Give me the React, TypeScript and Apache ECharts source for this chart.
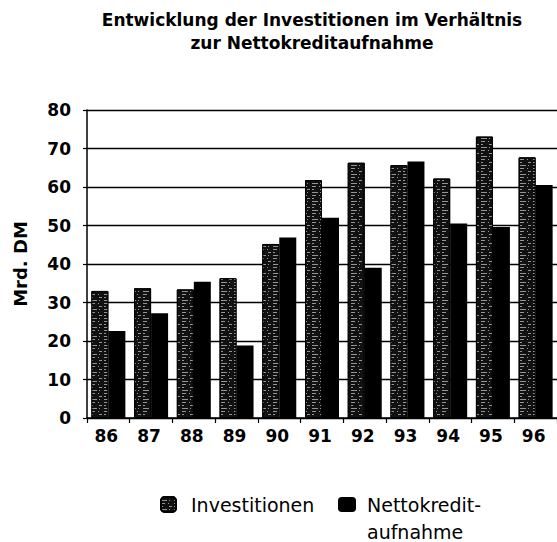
import React, { useEffect, useRef } from "react";
import * as echarts from "echarts";

const categories = ["86", "87", "88", "89", "90", "91", "92", "93", "94", "95", "96"];
const investitionen = [33.0, 33.7, 33.4, 36.3, 45.2, 61.8, 66.3, 65.7, 62.2, 73.1, 67.7];
const nettokreditaufnahme = [22.6, 27.2, 35.4, 18.8, 46.9, 52.0, 39.0, 66.6, 50.5, 49.6, 60.5];
const yMin = 0;
const yMax = 80;
const yStep = 10;

const FONT = "DejaVu Sans";

export default function App() {
  const ref = useRef<HTMLDivElement>(null);
  useEffect(() => {
    if (!ref.current) return;
    const chart = echarts.init(ref.current, null, { renderer: "svg" });
    const decal = {
      symbol: "rect",
      symbolSize: 1,
      color: "rgba(255,255,255,0.55)",
      dashArrayX: [
        [4, 3, 1, 5],
        [2, 6, 3, 2],
        [6, 2, 1, 4],
      ],
      dashArrayY: [1, 2],
      rotation: 0,
    };
    chart.setOption({
      animation: false,
      backgroundColor: "#ffffff",
      title: {
        text: "Entwicklung der Investitionen im Verhältnis\nzur Nettokreditaufnahme",
        left: 312,
        textAlign: "center",
        top: 8,
        padding: 0,
        textStyle: {
          fontFamily: FONT,
          fontWeight: "bold",
          fontSize: 17,
          lineHeight: 23,
          color: "#000",
        },
      },
      legend: [
        {
          data: ["Investitionen"],
          left: 160,
          top: 491,
          padding: 0,
          itemWidth: 15,
          itemHeight: 15,
          selectedMode: false,
          textStyle: {
            fontFamily: FONT,
            fontSize: 19,
            lineHeight: 27,
            color: "#000",
            padding: [0, 0, 0, 10],
          },
        },
        {
          data: ["Nettokreditaufnahme"],
          left: 338,
          top: 464,
          padding: 0,
          itemWidth: 18,
          itemHeight: 15,
          selectedMode: false,
          formatter: () => " \nNettokredit-\naufnahme",
          textStyle: {
            fontFamily: FONT,
            fontSize: 19,
            lineHeight: 27,
            color: "#000",
            padding: [0, 0, 0, 6],
          },
        },
      ],
      grid: { left: 87, top: 110, width: 473, height: 308, containLabel: false },
      xAxis: {
        type: "category",
        data: categories,
        axisLine: { show: true, lineStyle: { color: "#000", width: 1.5 } },
        axisTick: { show: true, length: 5, lineStyle: { color: "#000", width: 1.2 } },
        axisLabel: {
          fontFamily: FONT,
          fontWeight: "bold",
          fontSize: 17,
          color: "#000",
          margin: 9,
          padding: [0, 4, 0, 0],
        },
      },
      yAxis: {
        type: "value",
        min: yMin,
        max: yMax,
        interval: yStep,
        name: "Mrd. DM",
        nameLocation: "middle",
        nameRotate: 90,
        nameGap: 58,
        nameTextStyle: {
          fontFamily: FONT,
          fontWeight: "bold",
          fontSize: 18,
          color: "#000",
        },
        axisLine: { show: true, lineStyle: { color: "#000", width: 1.5 } },
        axisTick: { show: true, length: 4, lineStyle: { color: "#000", width: 1.2 } },
        axisLabel: {
          fontFamily: FONT,
          fontWeight: "bold",
          fontSize: 17,
          color: "#000",
          margin: 16,
        },
        splitLine: { show: true, lineStyle: { color: "#000", width: 1.4 } },
      },
      series: [
        {
          name: "Investitionen",
          type: "bar",
          data: investitionen,
          barWidth: 17,
          barGap: "0%",
          itemStyle: {
            color: "#111",
            borderColor: "#000",
            borderWidth: 1,
            decal,
          },
        },
        {
          name: "Nettokreditaufnahme",
          type: "bar",
          data: nettokreditaufnahme,
          barWidth: 17,
          barGap: "0%",
          itemStyle: { color: "#000" },
        },
      ],
    });
    return () => chart.dispose();
  }, []);
  return (
    <div
      ref={ref}
      style={{ position: "fixed", left: 0, top: 0, width: 557, height: 542 }}
    />
  );
}
